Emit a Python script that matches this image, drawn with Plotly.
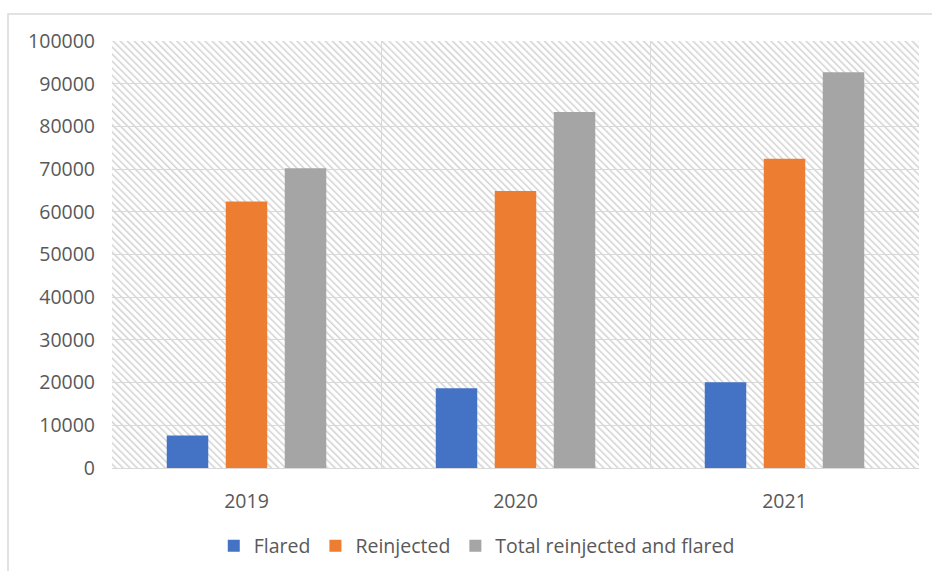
import base64
import plotly.graph_objects as go

years = ["2019", "2020", "2021"]
flared = [7600, 18700, 20100]
reinjected = [62400, 64900, 72400]
total = [70200, 83400, 92700]
series_names = ["Flared", "Reinjected", "Total reinjected and flared"]
colors = ["#4472C4", "#ED7D31", "#A5A5A5"]
y_max = 100000
y_step = 10000

W, H = 932, 571
ml, mr, mt, mb = 112, 13, 41, 103
pw, ph = W - ml - mr, H - mt - mb

svg = f'''<svg xmlns="http://www.w3.org/2000/svg" width="{pw}" height="{ph}" viewBox="0 0 {pw} {ph}">
<defs><pattern id="p" width="5" height="5" patternUnits="userSpaceOnUse" patternTransform="rotate(-45)">
<rect x="0" y="0" width="1.5" height="5" fill="#d2d2d2"/></pattern></defs>
<rect width="{pw}" height="{ph}" fill="#ffffff"/>
<rect width="{pw}" height="{ph}" fill="url(#p)"/></svg>'''
src = "data:image/svg+xml;base64," + base64.b64encode(svg.encode()).decode()

fig = go.Figure()
for name, vals, c in zip(series_names, [flared, reinjected, total], colors):
    fig.add_trace(go.Bar(x=years, y=vals, name=name, marker=dict(color=c, line=dict(width=0))))

font = dict(family="Open Sans, Liberation Sans, sans-serif", size=19.5, color="#595959")
grid = "#d9d9d9"
fig.update_layout(
    width=W, height=H,
    margin=dict(l=ml, r=mr, t=mt, b=mb, autoexpand=False),
    paper_bgcolor="white",
    plot_bgcolor="rgba(0,0,0,0)",
    barmode="group", bargap=0.342, bargroupgap=0.297,
    font=font,
    showlegend=True,
    legend=dict(orientation="h", x=0.452, xanchor="center", y=-0.183, yanchor="middle",
                font=font, bgcolor="rgba(0,0,0,0)"),
    xaxis=dict(type="category", tickson="boundaries", showgrid=True, gridcolor=grid, gridwidth=1.3,
               ticks="", showline=True, linecolor=grid, linewidth=1.3, ticklabelstandoff=15,
               tickfont=font, fixedrange=True, automargin=False),
    yaxis=dict(range=[0, y_max], dtick=y_step, showgrid=True, gridcolor=grid, gridwidth=1.3,
               zeroline=True, zerolinecolor=grid, zerolinewidth=1.3, ticks="", showline=False,
               ticklabelstandoff=16, tickfont=font, tickformat="d", fixedrange=True, automargin=False),
    images=[dict(source=src, xref="x domain", yref="y domain", x=0, y=1, sizex=1, sizey=1,
                 xanchor="left", yanchor="top", sizing="stretch", layer="below")],
    shapes=[dict(type="rect", xref="paper", yref="paper",
                 x0=(8 - ml) / pw, x1=(W + 5 - ml) / pw,
                 y0=-(mb + 10) / ph, y1=1 + (mt - 14) / ph,
                 line=dict(color=grid, width=1.5), fillcolor="rgba(0,0,0,0)", layer="below")],
)
fig.write_html("out.html")
